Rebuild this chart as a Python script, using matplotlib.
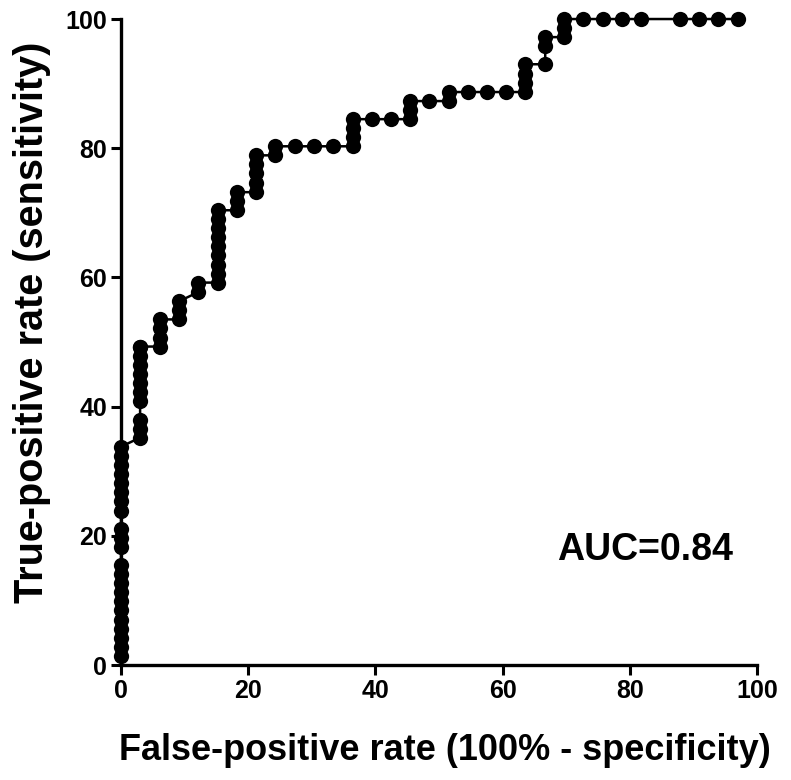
import matplotlib
matplotlib.use("Agg")
import matplotlib.pyplot as plt

# ROC points (percent)
fpr = [0, 0, 0, 0, 0, 0, 0, 0, 0, 0, 0,
       0, 0, 0, 0, 0, 0, 0, 0, 0, 0, 0,
       3.0, 3.0, 3.0, 3.0, 3.0, 3.0, 3.0, 3.0, 3.0, 3.0, 3.0,
       6.1, 6.1, 6.1, 6.1,
       9.1, 9.1, 9.1,
       12.1, 12.1,
       15.2, 15.2, 15.2, 15.2, 15.2, 15.2, 15.2, 15.2, 15.2,
       18.2, 18.2, 18.2,
       21.2, 21.2, 21.2, 21.2, 21.2,
       24.2, 24.2,
       27.3, 30.3, 33.3,
       36.4, 36.4, 36.4, 36.4,
       39.4, 42.4,
       45.5, 45.5, 45.5,
       48.5,
       51.5, 51.5,
       54.5, 57.6, 60.6,
       63.6, 63.6, 63.6, 63.6,
       66.7, 66.7, 66.7,
       69.7, 69.7, 69.7,
       72.7, 75.8, 78.8, 81.8, 87.9, 90.9, 93.9, 97.0]
tpr = [1.4, 2.8, 4.2, 5.6, 7.0, 8.5, 9.9, 11.3, 12.7, 14.1, 15.5,
       18.3, 19.7, 21.1, 23.9, 25.4, 26.8, 28.2, 29.6, 31.0, 32.4, 33.8,
       35.2, 36.6, 38.0, 40.8, 42.3, 43.7, 45.1, 46.5, 47.9, 49.3, 49.3,
       49.3, 50.7, 52.1, 53.5,
       53.5, 54.9, 56.3,
       57.7, 59.2,
       59.2, 60.6, 62.0, 63.4, 64.8, 66.2, 67.6, 69.0, 70.4,
       70.4, 71.8, 73.2,
       73.2, 74.6, 76.1, 77.5, 78.9,
       78.9, 80.3,
       80.3, 80.3, 80.3,
       80.3, 81.7, 83.1, 84.5,
       84.5, 84.5,
       84.5, 85.9, 87.3,
       87.3,
       87.3, 88.7,
       88.7, 88.7, 88.7,
       88.7, 90.1, 91.5, 93.0,
       93.0, 95.8, 97.2,
       97.2, 98.6, 100,
       100, 100, 100, 100, 100, 100, 100, 100]

auc_text = "AUC=0.84"
xticks = [0, 20, 40, 60, 80, 100]
yticks = [0, 20, 40, 60, 80, 100]

plt.rcParams['font.family'] = ['Liberation Sans', 'DejaVu Sans']
plt.rcParams['font.weight'] = 'bold'

fig = plt.figure(figsize=(7.91, 7.80), dpi=100)
ax = fig.add_axes([0.153, 0.1474, 0.804, 0.8282])

ax.plot(fpr, tpr, color='black', lw=1.8, marker='o', ms=11,
        markeredgewidth=0, clip_on=False, zorder=3)

ax.set_xlim(0, 100)
ax.set_ylim(0, 100)
ax.set_xticks(xticks)
ax.set_yticks(yticks)
for side in ['top', 'right']:
    ax.spines[side].set_visible(False)
for side in ['left', 'bottom']:
    ax.spines[side].set_linewidth(2.4)
ax.tick_params(direction='out', length=7, width=2.2, labelsize=18, pad=3)
for lab in ax.get_xticklabels() + ax.get_yticklabels():
    lab.set_fontweight('bold')

ax.set_xlabel("False-positive rate (100% - specificity)", fontsize=26,
              fontweight='bold', labelpad=24)
ax.xaxis.set_label_coords(0.51, -0.105)
ax.set_ylabel("True-positive rate (sensitivity)", fontsize=28.5,
              fontweight='bold', labelpad=12)
ax.yaxis.set_label_coords(-0.11, 0.531)

ax.text(82.4, 17.8, auc_text, fontsize=27, fontweight='bold',
        ha='center', va='center')

fig.savefig("out.png", dpi=100)
